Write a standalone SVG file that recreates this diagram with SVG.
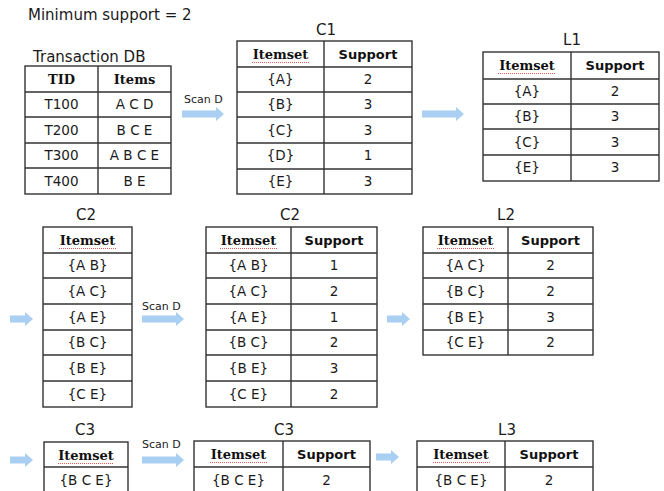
<svg xmlns="http://www.w3.org/2000/svg" width="664" height="491" viewBox="0 0 664 491">
<defs>
<path id="arrLong" d="M0,-3.5 H34 V-7 L42,0 L34,7 V3.5 H0 Z"/>
<path id="arrShort" d="M0,-3.5 H15 V-7 L23,0 L15,7 V3.5 H0 Z"/>
</defs>
<style>
.t{font-family:"DejaVu Sans",Verdana,sans-serif;fill:#1a1a1a}
.ttl{font-size:15px}
.cap{font-size:15px;text-anchor:middle}
.c{font-size:13.5px;text-anchor:middle}
.hs{font-family:"DejaVu Serif",Cambria,serif;font-weight:bold;font-size:13px;text-anchor:middle;fill:#111}
.hb{font-family:"DejaVu Sans",Verdana,sans-serif;font-weight:bold;font-size:13px;text-anchor:middle;fill:#111}
.scan{font-family:"DejaVu Sans",Verdana,sans-serif;font-size:11px;fill:#222}
.g{fill:#fff;stroke:#333;stroke-width:1.4}
.l{stroke:#333;stroke-width:1.4;fill:none}
.sq{stroke:#e06060;stroke-width:1;stroke-dasharray:1 1;fill:none}
.arr{fill:#a9d0f3}
</style>
<rect width="664" height="491" fill="#fff"/>
<text class="t ttl" x="28" y="20">Minimum support = 2</text>

<g id="transaction-db">
<text class="t ttl" x="33" y="62">Transaction DB</text>
<rect class="g" x="25" y="66" width="146" height="128"/>
<path class="l" d="M98,66 V194 M25,92 H171 M25,117 H171 M25,143 H171 M25,168 H171"/>
<text class="hs" x="61.5" y="84">TID</text><text class="hs" x="134.5" y="84">Items</text>
<text class="t c" x="61.5" y="109">T100</text><text class="t c" x="134.5" y="109">A C D</text>
<text class="t c" x="61.5" y="135">T200</text><text class="t c" x="134.5" y="135">B C E</text>
<text class="t c" x="61.5" y="160">T300</text><text class="t c" x="134.5" y="160">A B C E</text>
<text class="t c" x="61.5" y="186">T400</text><text class="t c" x="134.5" y="186">B E</text>
</g>

<g id="c1">
<text class="t cap" x="326" y="35">C1</text>
<rect class="g" x="237" y="41" width="175" height="153"/>
<path class="l" d="M324,41 V194 M237,67 H412 M237,92 H412 M237,117 H412 M237,143 H412 M237,169 H412"/>
<text class="hs" x="280.5" y="59">Itemset</text><path class="sq" d="M252,62.5 H309"/><text class="hb" x="368" y="59">Support</text>
<text class="t c" x="280.5" y="84">{A}</text><text class="t c" x="368" y="84">2</text>
<text class="t c" x="280.5" y="109">{B}</text><text class="t c" x="368" y="109">3</text>
<text class="t c" x="280.5" y="135">{C}</text><text class="t c" x="368" y="135">3</text>
<text class="t c" x="280.5" y="160">{D}</text><text class="t c" x="368" y="160">1</text>
<text class="t c" x="280.5" y="186">{E}</text><text class="t c" x="368" y="186">3</text>
</g>

<g id="l1">
<text class="t cap" x="572" y="45">L1</text>
<rect class="g" x="483" y="52" width="176" height="129"/>
<path class="l" d="M571,52 V181 M483,79 H659 M483,104 H659 M483,129 H659 M483,155 H659"/>
<text class="hs" x="527" y="70">Itemset</text><path class="sq" d="M498,73.5 H556"/><text class="hb" x="615" y="70">Support</text>
<text class="t c" x="527" y="96">{A}</text><text class="t c" x="615" y="96">2</text>
<text class="t c" x="527" y="121">{B}</text><text class="t c" x="615" y="121">3</text>
<text class="t c" x="527" y="147">{C}</text><text class="t c" x="615" y="147">3</text>
<text class="t c" x="527" y="172">{E}</text><text class="t c" x="615" y="172">3</text>
</g>

<g id="c2-candidates">
<text class="t cap" x="86" y="220">C2</text>
<rect class="g" x="43" y="227" width="89" height="180"/>
<path class="l" d="M43,253 H132 M43,278 H132 M43,304 H132 M43,330 H132 M43,355 H132 M43,381 H132"/>
<text class="hs" x="87.5" y="245">Itemset</text><path class="sq" d="M59,248.5 H116"/>
<text class="t c" x="87.5" y="270">{A B}</text>
<text class="t c" x="87.5" y="296">{A C}</text>
<text class="t c" x="87.5" y="322">{A E}</text>
<text class="t c" x="87.5" y="347">{B C}</text>
<text class="t c" x="87.5" y="373">{B E}</text>
<text class="t c" x="87.5" y="399">{C E}</text>
</g>

<g id="c2-counts">
<text class="t cap" x="290" y="220">C2</text>
<rect class="g" x="206" y="227" width="171" height="180"/>
<path class="l" d="M291,227 V407 M206,253 H377 M206,278 H377 M206,304 H377 M206,330 H377 M206,355 H377 M206,381 H377"/>
<text class="hs" x="248.5" y="245">Itemset</text><path class="sq" d="M220,248.5 H277"/><text class="hb" x="334" y="245">Support</text>
<text class="t c" x="248.5" y="270">{A B}</text><text class="t c" x="334" y="270">1</text>
<text class="t c" x="248.5" y="296">{A C}</text><text class="t c" x="334" y="296">2</text>
<text class="t c" x="248.5" y="322">{A E}</text><text class="t c" x="334" y="322">1</text>
<text class="t c" x="248.5" y="347">{B C}</text><text class="t c" x="334" y="347">2</text>
<text class="t c" x="248.5" y="373">{B E}</text><text class="t c" x="334" y="373">3</text>
<text class="t c" x="248.5" y="399">{C E}</text><text class="t c" x="334" y="399">2</text>
</g>

<g id="l2">
<text class="t cap" x="506" y="220">L2</text>
<rect class="g" x="423" y="227" width="170" height="128"/>
<path class="l" d="M508,227 V355 M423,253 H593 M423,278 H593 M423,304 H593 M423,330 H593"/>
<text class="hs" x="465.5" y="245">Itemset</text><path class="sq" d="M437,248.5 H494"/><text class="hb" x="550.5" y="245">Support</text>
<text class="t c" x="465.5" y="270">{A C}</text><text class="t c" x="550.5" y="270">2</text>
<text class="t c" x="465.5" y="296">{B C}</text><text class="t c" x="550.5" y="296">2</text>
<text class="t c" x="465.5" y="322">{B E}</text><text class="t c" x="550.5" y="322">3</text>
<text class="t c" x="465.5" y="347">{C E}</text><text class="t c" x="550.5" y="347">2</text>
</g>

<g id="c3-candidates">
<text class="t cap" x="85" y="435">C3</text>
<rect class="g" x="44" y="442" width="84" height="52"/>
<path class="l" d="M44,467 H128"/>
<text class="hs" x="86" y="460">Itemset</text><path class="sq" d="M58,463.5 H114"/>
<text class="t c" x="86" y="485">{B C E}</text>
</g>

<g id="c3-counts">
<text class="t cap" x="284" y="435">C3</text>
<rect class="g" x="194" y="441" width="176" height="53"/>
<path class="l" d="M283,441 V494 M194,467 H370"/>
<text class="hs" x="238.5" y="459">Itemset</text><path class="sq" d="M210,462.5 H267"/><text class="hb" x="326.5" y="459">Support</text>
<text class="t c" x="238.5" y="485">{B C E}</text><text class="t c" x="326.5" y="485">2</text>
</g>

<g id="l3">
<text class="t cap" x="507" y="435">L3</text>
<rect class="g" x="417" y="441" width="176" height="53"/>
<path class="l" d="M505,441 V494 M417,467 H593"/>
<text class="hs" x="461" y="459">Itemset</text><path class="sq" d="M433,462.5 H490"/><text class="hb" x="549" y="459">Support</text>
<text class="t c" x="461" y="485">{B C E}</text><text class="t c" x="549" y="485">2</text>
</g>

<g id="connectors">
<text class="scan" x="184" y="103">Scan D</text>
<use href="#arrLong" class="arr" transform="translate(182,114)"/>
<use href="#arrLong" class="arr" transform="translate(422,114)"/>
<use href="#arrShort" class="arr" transform="translate(10,319)"/>
<text class="scan" x="142" y="310">Scan D</text>
<use href="#arrLong" class="arr" transform="translate(142,319)"/>
<use href="#arrShort" class="arr" transform="translate(387,319)"/>
<use href="#arrShort" class="arr" transform="translate(10,460)"/>
<text class="scan" x="142" y="448">Scan D</text>
<use href="#arrLong" class="arr" transform="translate(142,460)"/>
<use href="#arrShort" class="arr" transform="translate(376,457)"/>
</g>
</svg>
